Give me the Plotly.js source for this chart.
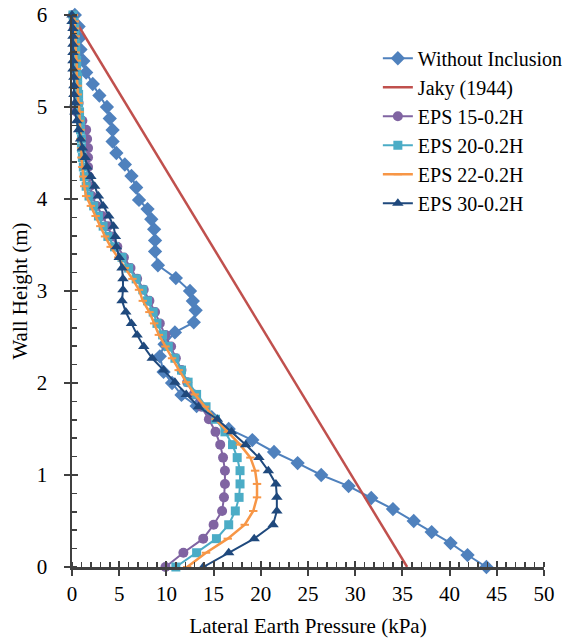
<!DOCTYPE html>
<html>
<head>
<meta charset="utf-8">
<script src="https://cdn.plot.ly/plotly-3.0.1.min.js"></script>
<style>html,body{margin:0;padding:0;background:#fff;}#chart{width:571px;height:638px;}</style>
</head>
<body>
<div id="chart"></div>
<script>
// ---- Without Inclusion ----
var blueDepth = [0, 0.13, 0.26, 0.38, 0.50, 0.63, 0.75, 0.88, 1.0, 1.13, 1.25, 1.38, 1.5, 1.63, 1.75, 1.87, 2.0, 2.12, 2.29, 2.42, 2.55, 2.66, 2.79, 2.89, 3.0, 3.14, 3.28, 3.43, 3.55, 3.67, 3.78, 3.89, 3.99, 4.125, 4.25, 4.375, 4.5, 4.625, 4.75, 4.875, 5.0, 5.125, 5.25, 5.375, 5.5, 5.625, 5.75, 5.875, 6.0];
var bluePressure = [43.9, 41.9, 40.1, 38.1, 36.2, 34.0, 31.7, 29.3, 26.4, 23.9, 21.4, 19.1, 16.6, 14.8, 13.2, 11.6, 10.6, 9.7, 9.3, 9.8, 10.9, 12.9, 13.1, 12.8, 12.5, 11.0, 9.1, 8.8, 8.8, 8.7, 8.4, 8.0, 7.1, 6.8, 6.3, 5.6, 4.7, 4.3, 4.3, 4.0, 3.7, 2.9, 2.2, 1.5, 1.2, 0.9, 0.8, 0.7, 0.3];

// ---- Jaky (1944) ----
var jakyDepth = [6, 0];
var jakyPressure = [0, 35.5];

// ---- EPS series depths ----
var epsDepth = [0, 0.155, 0.308, 0.459, 0.609, 0.757, 0.903, 1.047, 1.189, 1.330, 1.469, 1.606, 1.742, 1.876, 2.009, 2.140, 2.269, 2.397, 2.523, 2.648, 2.771, 2.893, 3.013, 3.132, 3.249, 3.365, 3.480, 3.593, 3.705, 3.815, 3.925, 4.032, 4.139, 4.244, 4.348, 4.451, 4.553, 4.653, 4.752, 4.850, 4.947, 5.043, 5.137, 5.231, 5.323, 5.414, 5.504, 5.593, 5.681, 5.768, 5.854, 5.930, 6.0];

var eps15 = [9.9, 11.8, 13.9, 15.0, 15.9, 16.1, 16.2, 16.2, 16.0, 15.7, 15.2, 14.5, 13.7, 12.9, 12.2, 11.6, 11.0, 10.5, 9.9, 9.3, 8.8, 8.2, 7.6, 6.9, 6.2, 5.5, 4.8, 4.2, 3.8, 3.2, 2.6, 2.1, 1.9, 1.8, 1.7, 1.7, 1.7, 1.6, 1.5, 1.1, -0.2, 0.7, 0.6, 0.5, 0.5, 0.4, 0.4, 0.3, 0.3, 0.3, 0.2, 0.2, 0.1];
var eps20 = [11.0, 13.2, 15.3, 16.6, 17.3, 17.7, 17.8, 17.8, 17.5, 17.0, 16.2, 15.2, 14.2, 13.2, 12.3, 11.6, 10.9, 10.2, 9.6, 9.0, 8.6, 8.0, 7.5, 6.8, 6.0, 5.3, 4.5, 3.8, 3.3, 2.8, 2.3, 1.8, 1.5, 1.3, 1.2, 1.1, 1.0, 1.0, 0.9, 0.9, 0.8, 0.7, 0.7, 0.6, 0.6, 0.5, 0.5, 0.4, 0.4, 0.3, 0.3, 0.2, 0.1];
var eps22 = [12.2, 14.2, 16.5, 18.3, 19.2, 19.6, 19.6, 19.4, 18.9, 17.8, 16.5, 15.2, 14.1, 13.0, 12.1, 11.3, 10.6, 9.9, 9.2, 8.7, 8.2, 7.5, 7.1, 6.4, 5.6, 4.9, 4.1, 3.5, 3.0, 2.5, 2.0, 1.5, 1.3, 1.2, 1.1, 1.0, 1.0, 0.9, 0.9, 0.8, 0.8, 0.7, 0.6, 0.6, 0.5, 0.5, 0.5, 0.4, 0.4, 0.4, 0.3, 0.3, 0.2];
var eps30 = [13.9, 16.6, 19.3, 21.3, 21.7, 21.7, 21.6, 20.8, 19.8, 18.4, 16.9, 15.4, 13.4, 12.1, 10.9, 9.7, 8.5, 7.6, 6.9, 6.3, 5.7, 5.3, 5.4, 5.4, 5.3, 5.0, 4.7, 4.6, 4.4, 3.9, 3.3, 2.8, 2.4, 2.0, 1.6, 1.4, 1.1, 0.9, 0.7, 0.5, 0.3, 0.3, 0.2, 0.2, 0.2, 0.1, 0.1, 0.1, 0.1, 0.1, 0.1, 0.0, 0.0];

var seriesNames = ["Without Inclusion", "Jaky (1944)", "EPS 15-0.2H", "EPS 20-0.2H", "EPS 22-0.2H", "EPS 30-0.2H"];
var xTickVals = [0, 5, 10, 15, 20, 25, 30, 35, 40, 45, 50];
var yTickVals = [0, 1, 2, 3, 4, 5, 6];

var FONT = "Liberation Serif";
var FS = 21;

var traces = [
  {x: bluePressure, y: blueDepth, name: seriesNames[0], mode: "lines+markers", cliponaxis: false,
   line: {color: "#4F81BD", width: 2}, marker: {symbol: "diamond", size: 11, color: "#4F81BD"}},
  {x: jakyPressure, y: jakyDepth, name: seriesNames[1], mode: "lines", cliponaxis: false,
   line: {color: "#C0504D", width: 2.5}},
  {x: eps15, y: epsDepth, name: seriesNames[2], mode: "lines+markers", cliponaxis: false,
   line: {color: "#8064A2", width: 2}, marker: {symbol: "circle", size: 10, color: "#8064A2"}},
  {x: eps20, y: epsDepth, name: seriesNames[3], mode: "lines+markers", cliponaxis: false,
   line: {color: "#4BACC6", width: 2}, marker: {symbol: "square", size: 9, color: "#4BACC6"}},
  {x: eps22, y: epsDepth, name: seriesNames[4], mode: "lines+markers", cliponaxis: false,
   line: {color: "#F79646", width: 2.5}, marker: {symbol: "line-ew", size: 6, color: "#F79646", line: {color: "#F79646", width: 2}}},
  {x: eps30, y: epsDepth, name: seriesNames[5], mode: "lines+markers", cliponaxis: false,
   line: {color: "#1F497D", width: 2}, marker: {symbol: "triangle-up", size: 10, color: "#1F497D"}},
  {x: [], y: [], xaxis: "x2", yaxis: "y2", showlegend: false, hoverinfo: "skip"}
];

var axisColor = "#404040";
var layout = {
  width: 571, height: 638,
  paper_bgcolor: "#ffffff", plot_bgcolor: "#ffffff",
  margin: {l: 72, r: 27, t: 15, b: 71, autoexpand: false},
  font: {family: FONT, size: FS, color: "#000"},
  showlegend: true,
  legend: {x: 0.648, y: 0.957, xanchor: "left", yanchor: "top", bgcolor: "rgba(255,255,255,0)",
           font: {family: FONT, size: 20, color: "#000"}, tracegroupgap: 0},
  xaxis: {
    range: [0, 50], tickvals: xTickVals, ticktext: xTickVals.map(String), automargin: false,
    showgrid: false, zeroline: false, showline: true, linecolor: axisColor, linewidth: 2.5,
    ticks: "outside", ticklen: 6, tickwidth: 2, tickcolor: axisColor,
    minor: {ticks: "inside", dtick: 1, ticklen: 5, tickwidth: 1.5, tickcolor: axisColor, showgrid: false},
    tickfont: {family: FONT, size: FS, color: "#000"},
    title: {text: "Lateral Earth Pressure (kPa)", font: {family: FONT, size: FS, color: "#000"}, standoff: 16},
    fixedrange: true
  },
  yaxis: {
    range: [0, 6], tickvals: yTickVals, ticktext: yTickVals.map(String), automargin: false,
    showgrid: false, zeroline: false, showline: true, linecolor: axisColor, linewidth: 2.5,
    ticks: "outside", ticklen: 6, tickwidth: 2, tickcolor: axisColor,
    minor: {ticks: "inside", dtick: 0.2, ticklen: 5, tickwidth: 1.5, tickcolor: axisColor, showgrid: false},
    tickfont: {family: FONT, size: FS, color: "#000"},
    ticklabelstandoff: 12,
    title: {text: "Wall Height (m)", font: {family: FONT, size: FS, color: "#000"}, standoff: 4},
    fixedrange: true
  },
  xaxis2: {range: [0, 50], overlaying: "x", anchor: "y2", side: "bottom", tickvals: xTickVals, automargin: false,
    showticklabels: false, showgrid: false, zeroline: false, showline: false,
    ticks: "inside", ticklen: 6, tickwidth: 2, tickcolor: axisColor, fixedrange: true},
  yaxis2: {range: [0, 6], overlaying: "y", anchor: "x2", side: "left", tickvals: yTickVals, automargin: false,
    showticklabels: false, showgrid: false, zeroline: false, showline: false,
    ticks: "inside", ticklen: 6, tickwidth: 2, tickcolor: axisColor, fixedrange: true}
};

Plotly.newPlot("chart", traces, layout, {displayModeBar: false, staticPlot: true});
</script>
</body>
</html>
